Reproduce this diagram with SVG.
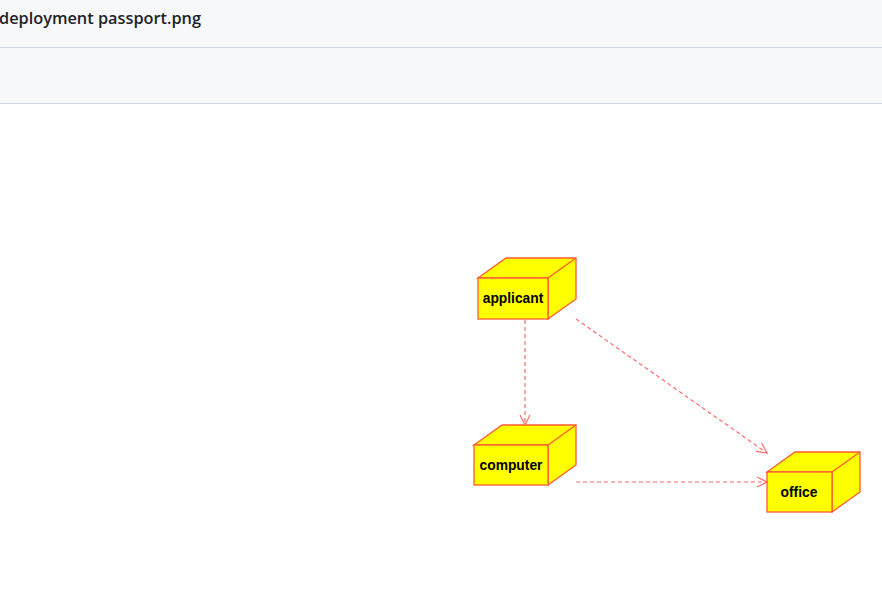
<svg xmlns="http://www.w3.org/2000/svg" width="882" height="600" viewBox="0 0 882 600">
<style>
.bar{fill:#f6f8fa}
.rule{stroke:#d0d7de;stroke-width:1}
.title{font-family:"Open Sans","Liberation Sans",sans-serif;font-size:17px;font-weight:600;fill:#1f2328}
.box{fill:#ffff00;stroke:#ff5a33;stroke-width:1.3;stroke-linejoin:miter}
.lbl{font-family:"Liberation Sans",Arial,sans-serif;font-size:13.8px;font-weight:bold;fill:#000;text-anchor:middle}
.dep{fill:none;stroke:#ff6b6b;stroke-width:1.2;stroke-dasharray:4 3}
</style>
<defs>
<marker id="open" viewBox="0 0 12 12" refX="11" refY="6" markerWidth="12" markerHeight="12" markerUnits="userSpaceOnUse" orient="auto">
<path d="M1,1 L11,6 L1,11" fill="none" stroke="#ff6b6b" stroke-width="1.2"/>
</marker>
</defs>
<rect width="882" height="600" fill="#ffffff"/>
<rect class="bar" x="0" y="0" width="882" height="103"/>
<line class="rule" x1="0" y1="47.5" x2="882" y2="47.5"/>
<line class="rule" x1="0" y1="103.5" x2="882" y2="103.5"/>
<text class="title" x="-1" y="24" textLength="202" lengthAdjust="spacingAndGlyphs">deployment passport.png</text>

<g id="connectors">
<line class="dep" x1="525" y1="320" x2="525" y2="425" marker-end="url(#open)"/>
<line class="dep" x1="576" y1="319" x2="767" y2="453" marker-end="url(#open)"/>
<line class="dep" x1="576" y1="482" x2="767" y2="482" marker-end="url(#open)"/>
</g>

<g id="applicant">
<path class="box" d="M478,278 L506,258 L576,258 L576,299 L548,319 L548,278 Z"/>
<line class="box" x1="548" y1="278" x2="576" y2="258"/>
<rect class="box" x="478" y="278" width="70" height="41"/>
<text class="lbl" x="513" y="303">applicant</text>
</g>

<g id="computer">
<path class="box" d="M474,445 L502,425 L576,425 L576,465 L548,485 L548,445 Z"/>
<line class="box" x1="548" y1="445" x2="576" y2="425"/>
<rect class="box" x="474" y="445" width="74" height="40"/>
<text class="lbl" x="511" y="470">computer</text>
</g>

<g id="office">
<path class="box" d="M767,472 L795,452 L860,452 L860,492 L832,512 L832,472 Z"/>
<line class="box" x1="832" y1="472" x2="860" y2="452"/>
<rect class="box" x="767" y="472" width="65" height="40"/>
<text class="lbl" x="799" y="497">office</text>
</g>
</svg>
